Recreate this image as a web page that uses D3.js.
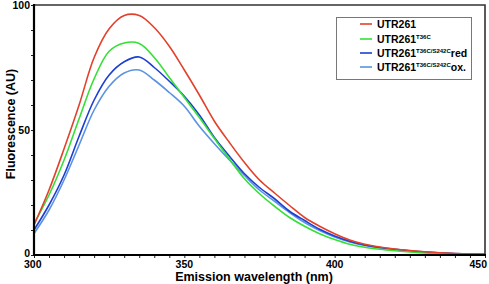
<!DOCTYPE html>
<html><head><meta charset="utf-8">
<script src="https://cdn.jsdelivr.net/npm/d3@7"></script>
<style>body{margin:0;background:#fff}svg{display:block}text{font-family:"Liberation Sans",Arial,sans-serif;font-weight:bold}</style>
</head><body>
<script>
const wavelengths = [300,305,310,315,320,325,330,335,340,345,350,355,360,365,370,375,380,385,390,395,400,405,410,415,420,425,430,435,440,445,450];
const utr261      = [12,26,42.5,60,79,90.5,95.8,95.8,91,83.5,74,64,53.5,45,37,30,24.8,19.8,15,11.5,8.5,6,4.3,3.2,2.4,1.8,1.3,0.9,0.6,0.4,0.3];
const t36c        = [12.5,24,38,54.5,70.5,81.5,84.8,84.6,79,71,63,55,46.6,38.4,30.5,24.5,19.5,15,11.5,8.5,6.2,4.3,3.1,2.3,1.7,1.2,0.8,0.6,0.4,0.3,0.2];
const redForm     = [10,20,32,47.5,62,72,77.3,79.2,75,69.5,63.5,56,47,39.5,32.5,27,22.5,17.5,13.8,10.3,7.6,5.5,4,3,2.3,1.7,1.2,0.9,0.6,0.4,0.3];
const oxForm      = [8.6,18,30,44,58,67.5,72.8,74,70,65,59.5,51.5,44.5,38,31.8,26,21.5,17,13,9.8,7.2,5.2,3.8,2.8,2.1,1.5,1.1,0.8,0.5,0.35,0.25];
const seriesNames = ["UTR261","UTR261","UTR261","UTR261"];
const seriesSups  = ["","T36C","T36C/S242C","T36C/S242C"];
const seriesSuffix= ["","","red","ox."];
const colors      = ["#e2412b","#35e035","#1c3fd2","#5a93e2"];
const xTicks = [300,350,400,450];
const yTicks = [0,50,100];
const xLabel = "Emission wavelength (nm)";
const yLabel = "Fluorescence (AU)";

const W=489,H=284;
const svg=d3.select("body").append("svg").attr("width",W).attr("height",H);
const x=d3.scaleLinear().domain([300,450]).range([34,485]);
const y=d3.scaleLinear().domain([0,100]).range([255,5]);

// minor ticks
const xa=d3.axisBottom(x).tickValues(d3.range(300,451,5)).tickSize(3).tickFormat("");
svg.append("g").attr("transform","translate(0,255)").call(xa).call(g=>{g.select(".domain").remove();g.selectAll("line").attr("stroke","#222").attr("stroke-width",1);});
const ya=d3.axisLeft(y).tickValues(d3.range(0,101,10)).tickSize(3).tickFormat("");
svg.append("g").attr("transform","translate(34,0)").call(ya).call(g=>{g.select(".domain").remove();g.selectAll("line").attr("stroke","#222").attr("stroke-width",1);});

// lines
const data=[utr261,t36c,redForm,oxForm];
const line=d3.line().x((d,i)=>x(wavelengths[i])).y(d=>y(d)).curve(d3.curveCatmullRom.alpha(0.5));
[3,2,1,0].forEach(k=>{
  svg.append("path").datum(data[k]).attr("d",line).attr("fill","none").attr("stroke",colors[k]).attr("stroke-width",1.6);
});

// frame
svg.append("path").attr("d",`M${x(300)},${y(100)}H${x(450)}V${y(0)}`).attr("fill","none").attr("stroke","#333").attr("stroke-width",1.6);
svg.append("path").attr("d",`M${x(300)},${y(100)-1}V${y(0)}H${x(450)+1}`).attr("fill","none").attr("stroke","#000").attr("stroke-width",2.2);

// tick labels
svg.append("g").selectAll("text").data(xTicks).join("text")
  .attr("x",d=>x(d)).attr("y",268).attr("text-anchor",(d,i)=>i===0?"start":(i===xTicks.length-1?"end":"middle"))
  .attr("dx",(d,i)=>i===0?-10:(i===xTicks.length-1?2:0))
  .attr("font-size",10.5).text(d=>d);
svg.append("g").selectAll("text").data(yTicks).join("text")
  .attr("x",30).attr("y",d=>y(d)+(d===0?1.5:4)).attr("text-anchor","end").attr("font-size",10.5).text(d=>d);

// axis titles
svg.append("text").attr("x",254).attr("y",281).attr("text-anchor","middle").attr("font-size",12.5).text(xLabel);
svg.append("text").attr("transform","translate(15,124) rotate(-90)").attr("text-anchor","middle").attr("font-size",12.5).text(yLabel);

// legend
svg.append("rect").attr("x",336.5).attr("y",17.5).attr("width",135).attr("height",62).attr("fill","#fff").attr("stroke","#777").attr("stroke-width",1);
const ly=[24,39,53,67];
seriesNames.forEach((n,i)=>{
  svg.append("line").attr("x1",360).attr("x2",372).attr("y1",ly[i]).attr("y2",ly[i]).attr("stroke",colors[i]).attr("stroke-width",1.6);
  const t=svg.append("text").attr("x",377).attr("y",ly[i]+4).attr("font-size",10.5);
  t.append("tspan").text(n);
  if(seriesSups[i]) t.append("tspan").attr("font-size",6).attr("dy",-4).text(seriesSups[i]);
  if(seriesSuffix[i]) t.append("tspan").attr("dy",4).attr("font-size",10.5).text(seriesSuffix[i]);
});
</script>
</body></html>
